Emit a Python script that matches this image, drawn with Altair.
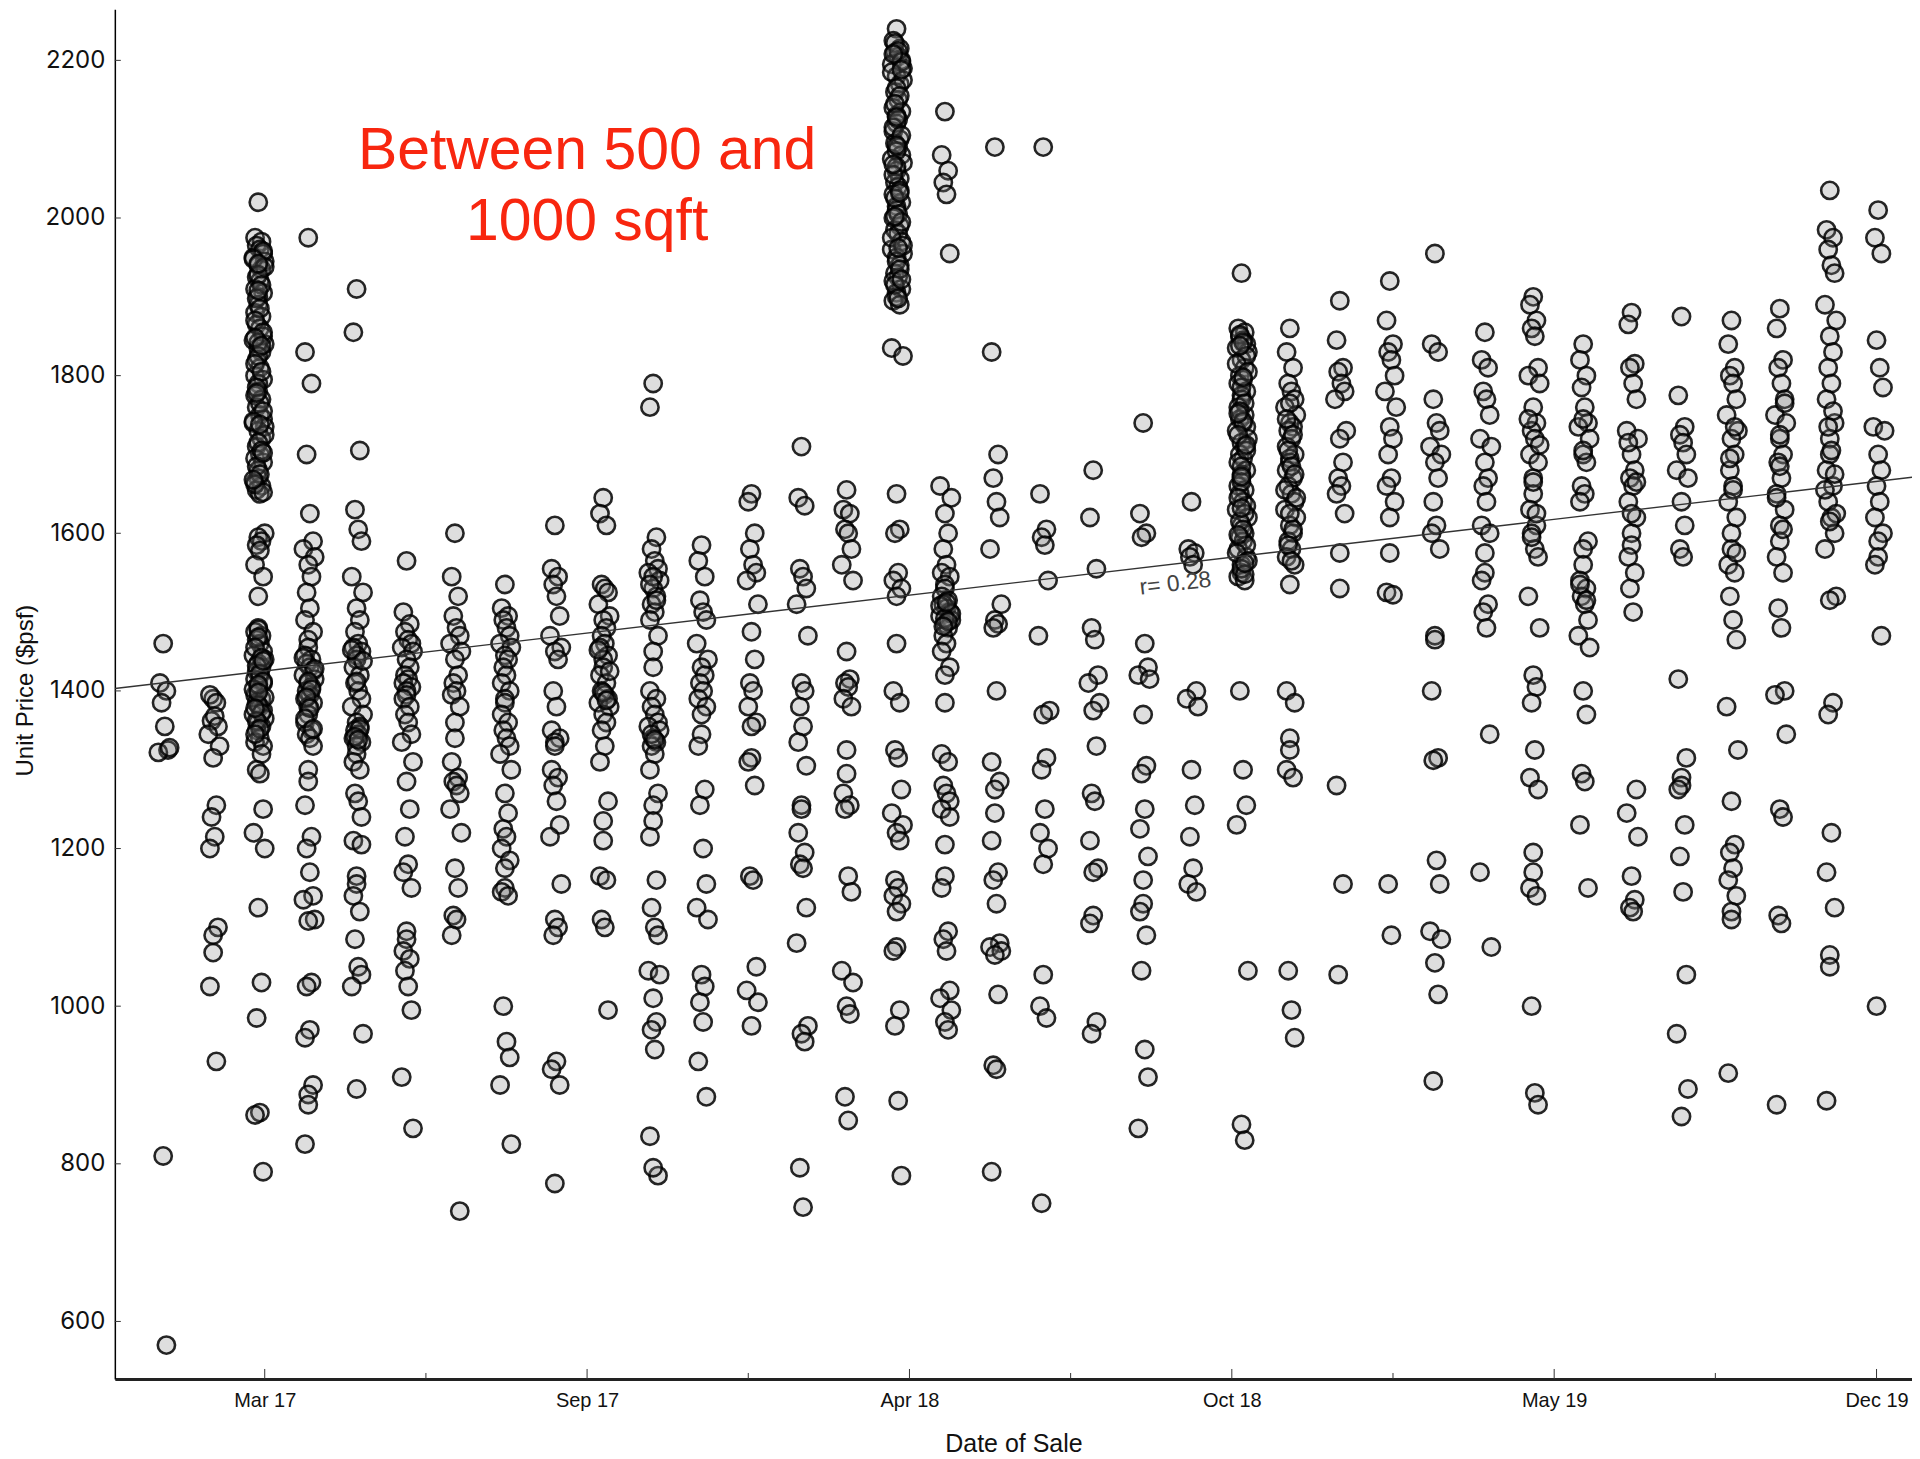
import altair as alt
import pandas as pd

# ---------------- data ----------------
MONTHS = [f"{y}-{m:02d}" for y in (2017, 2018, 2019) for m in range(1, 13)]

# sale day within each month (points in a month sit a few days apart)
DAYS = [4, 2, 6, 3, 5, 7, 1, 8, 4, 6, 3, 5, 2, 7, 4]

PRICES = [
    # Jan 17
    [1460, 1410, 1400, 1385, 1355, 1325, 1322, 1328, 810, 570],
    # Feb 17
    [1390, 1395, 1385, 1362, 1368, 1355, 1345, 1330, 1315, 1255, 1240, 1215, 1200, 1100, 1090, 1068, 1025, 930],
    # Mar 17
    [2020, 1975, 1970, 1965, 1960, 1955, 1950, 1945, 1940, 1935, 1925, 1920, 1910, 1905, 1900, 1890, 1880, 1875,
     1865, 1860, 1850, 1845, 1840, 1835, 1830, 1820, 1810, 1800, 1795, 1790, 1780, 1775, 1770, 1760, 1750, 1745,
     1740, 1735, 1730, 1720, 1710, 1700, 1695, 1690, 1680, 1670, 1665, 1660, 1655, 1650,
     1958, 1948, 1938, 1928, 1915, 1898, 1885, 1870, 1855, 1842, 1825, 1815, 1805, 1785, 1765, 1755, 1742, 1725,
     1715, 1705, 1685, 1675, 1662, 1652, 1942, 1908, 1848, 1838, 1778, 1738, 1702, 1668,
     1600, 1595, 1590, 1585, 1578, 1560, 1545, 1520,
     1480, 1475, 1470, 1465, 1460, 1450, 1445, 1440, 1435, 1430, 1425, 1420, 1415, 1410, 1405, 1400, 1395, 1390,
     1385, 1380, 1375, 1370, 1365, 1360, 1355, 1350, 1340, 1335, 1330,
     1478, 1468, 1455, 1442, 1432, 1422, 1412, 1402, 1392, 1382, 1372, 1362, 1352, 1345, 1438, 1408, 1398, 1378,
     1320, 1300, 1295, 1250, 1220, 1200, 1125, 1030, 985, 865, 862, 790],
    # Apr 17
    [1975, 1830, 1790, 1700, 1625, 1590, 1580, 1570, 1560, 1545, 1525, 1505, 1490, 1475, 1465, 1455, 1445, 1440,
     1435, 1430, 1425, 1420, 1415, 1410, 1405, 1400, 1395, 1390, 1385, 1380, 1370, 1360, 1350, 1345, 1340, 1330,
     1442, 1428, 1412, 1402, 1392, 1378, 1365, 1352,
     1300, 1285, 1255, 1215, 1200, 1170, 1140, 1135, 1110, 1108, 1030, 1025, 970, 960, 900, 888, 875, 825],
    # May 17
    [1910, 1855, 1705, 1630, 1605, 1590, 1545, 1525, 1505, 1490, 1475, 1460, 1455, 1450, 1445, 1440, 1430, 1420,
     1410, 1400, 1390, 1380, 1370, 1360, 1355, 1350, 1345, 1340, 1335, 1330, 1320, 1310, 1300, 1270, 1260, 1240,
     1452, 1438, 1412, 1352, 1342, 1338,
     1210, 1205, 1165, 1155, 1140, 1120, 1085, 1050, 1040, 1025, 965, 895],
    # Jun 17
    [1565, 1500, 1485, 1475, 1465, 1460, 1455, 1450, 1440, 1430, 1420, 1415, 1410, 1405, 1400, 1395, 1390, 1380,
     1370, 1360, 1345, 1335, 1310, 1285, 1250, 1215, 1180, 1170, 1150, 1095, 1085, 1070, 1060, 1045, 1025, 995,
     910, 845],
    # Jul 17
    [1600, 1545, 1520, 1495, 1480, 1470, 1460, 1450, 1440, 1420, 1410, 1400, 1395, 1380, 1360, 1340, 1310, 1290,
     1285, 1280, 1270, 1250, 1220, 1175, 1150, 1115, 1110, 1090, 740],
    # Aug 17
    [1535, 1505, 1495, 1490, 1480, 1470, 1460, 1455, 1445, 1440, 1430, 1420, 1410, 1400, 1390, 1385, 1370, 1360,
     1350, 1340, 1330, 1320, 1300, 1270, 1245, 1225, 1215, 1200, 1185, 1175, 1150, 1145, 1140, 1000, 955, 935,
     900, 825],
    # Sep 17
    [1610, 1555, 1545, 1535, 1520, 1495, 1470, 1455, 1450, 1440, 1400, 1380, 1350, 1340, 1335, 1330, 1300, 1290,
     1280, 1260, 1230, 1215, 1155, 1110, 1100, 1090, 930, 920, 900, 775],
    # Oct 17
    [1645, 1625, 1610, 1535, 1530, 1525, 1510, 1495, 1490, 1480, 1470, 1460, 1455, 1445, 1440, 1430, 1420, 1410,
     1400, 1395, 1390, 1385, 1380, 1370, 1360, 1350, 1330, 1310, 1260, 1235, 1210, 1165, 1160, 1110, 1100, 995,
     1452, 1425, 1398, 1388],
    # Nov 17
    [1790, 1760, 1595, 1580, 1565, 1555, 1550, 1540, 1530, 1520, 1510, 1500, 1490, 1470, 1450, 1430, 1400, 1390,
     1380, 1370, 1360, 1355, 1350, 1340, 1335, 1330, 1320, 1300, 1270, 1255, 1235, 1215, 1160, 1125, 1100, 1090,
     1045, 1040, 1010, 980, 970, 945, 835, 785, 795, 1545, 1535, 1515, 1345, 1338],
    # Dec 17
    [1585, 1565, 1545, 1515, 1500, 1490, 1460, 1440, 1430, 1420, 1410, 1400, 1390, 1380, 1370, 1345, 1330, 1275,
     1255, 1200, 1155, 1125, 1110, 1040, 1025, 1005, 980, 930, 885],
    # Jan 18
    [1650, 1640, 1600, 1580, 1560, 1550, 1540, 1510, 1475, 1440, 1410, 1400, 1380, 1360, 1355, 1315, 1310, 1280,
     1165, 1160, 1050, 1020, 1005, 975],
    # Feb 18
    [1710, 1645, 1635, 1555, 1545, 1530, 1510, 1470, 1410, 1400, 1380, 1355, 1335, 1305, 1255, 1250, 1220, 1195,
     1180, 1175, 1125, 1080, 975, 965, 955, 795, 745],
    # Mar 18
    [1655, 1630, 1625, 1605, 1600, 1580, 1560, 1540, 1450, 1415, 1410, 1405, 1390, 1380, 1325, 1295, 1270, 1255,
     1250, 1165, 1145, 1045, 1030, 1000, 990, 885, 855],
    # Apr 18
    [2240, 2225, 2215, 2210, 2205, 2200, 2195, 2190, 2180, 2170, 2160, 2150, 2140, 2135, 2130, 2120, 2110, 2100,
     2095, 2090, 2080, 2075, 2070, 2060, 2050, 2045, 2040, 2030, 2020, 2015, 2010, 2000, 1990, 1985, 1980, 1970,
     1960, 1955, 1950, 1940, 1930, 1925, 1920, 1910, 1905, 1900, 1895, 1890,
     2222, 2212, 2198, 2185, 2175, 2165, 2155, 2145, 2125, 2115, 2105, 2085, 2065, 2055, 2035, 2025, 2005, 1995,
     1975, 1965, 1945, 1935, 1915, 1898, 2208, 2188, 2128, 2092, 2068, 2032, 2002, 1962, 1922,
     1835, 1825, 1650, 1605, 1600, 1550, 1540, 1530, 1520, 1460, 1400, 1385, 1325, 1315, 1275, 1245, 1230, 1220,
     1210, 1160, 1150, 1140, 1130, 1120, 1075, 1070, 995, 975, 880, 785],
    # May 18
    [2135, 2080, 2060, 2045, 2030, 1955, 1660, 1645, 1625, 1600, 1580, 1560, 1550, 1545, 1535, 1530, 1520, 1515,
     1510, 1505, 1500, 1495, 1490, 1485, 1480, 1470, 1460, 1450, 1430, 1420, 1385, 1320, 1310, 1280, 1270, 1260,
     1508, 1498, 1492, 1488, 1482, 1512,
     1250, 1240, 1205, 1165, 1150, 1095, 1085, 1070, 1020, 1010, 995, 980, 970],
    # Jun 18
    [2090, 1830, 1700, 1670, 1640, 1620, 1580, 1510, 1490, 1485, 1480, 1400, 1310, 1285, 1275, 1245, 1210, 1170,
     1160, 1130, 1080, 1075, 1070, 1065, 1015, 925, 920, 790],
    # Jul 18
    [2090, 1650, 1605, 1595, 1585, 1540, 1470, 1375, 1370, 1315, 1300, 1250, 1220, 1200, 1180, 1040, 1000, 985, 750],
    # Aug 18
    [1680, 1620, 1555, 1480, 1465, 1420, 1410, 1385, 1375, 1330, 1270, 1260, 1210, 1175, 1170, 1115, 1105, 980, 965],
    # Sep 18
    [1740, 1625, 1600, 1595, 1460, 1430, 1420, 1415, 1370, 1305, 1295, 1250, 1225, 1190, 1160, 1130, 1120, 1090,
     1045, 945, 910, 845],
    # Oct 18
    [1640, 1580, 1575, 1570, 1560, 1400, 1390, 1380, 1300, 1255, 1215, 1175, 1155, 1145],
    # Nov 18
    [1930, 1860, 1855, 1850, 1845, 1840, 1835, 1830, 1820, 1810, 1800, 1795, 1790, 1780, 1775, 1770, 1760, 1750,
     1745, 1740, 1735, 1730, 1720, 1715, 1710, 1700, 1695, 1690, 1680, 1675, 1670, 1660, 1655, 1650, 1640, 1635,
     1630, 1620, 1610, 1600, 1595, 1590, 1580, 1570, 1560, 1550, 1545, 1540,
     1852, 1842, 1825, 1815, 1805, 1785, 1765, 1755, 1742, 1725, 1705, 1685, 1665, 1645, 1625, 1615, 1605, 1585,
     1575, 1565, 1555, 1548, 1838, 1798, 1752, 1712, 1672, 1632, 1598, 1562,
     1400, 1300, 1255, 1230, 1045, 850, 830],
    # Dec 18
    [1860, 1830, 1810, 1790, 1780, 1770, 1760, 1750, 1740, 1735, 1730, 1720, 1710, 1700, 1695, 1690, 1680, 1670,
     1660, 1650, 1640, 1630, 1620, 1610, 1600, 1590, 1580, 1570, 1560, 1535,
     1765, 1745, 1725, 1705, 1685, 1675, 1655, 1645, 1625, 1605, 1585, 1565,
     1400, 1385, 1340, 1325, 1300, 1290, 1045, 995, 960],
    # Jan 19
    [1895, 1845, 1810, 1805, 1790, 1780, 1770, 1730, 1720, 1690, 1670, 1660, 1650, 1625, 1575, 1530, 1280, 1155, 1040],
    # Feb 19
    [1920, 1870, 1840, 1830, 1820, 1800, 1780, 1760, 1735, 1720, 1700, 1670, 1660, 1640, 1620, 1575, 1525, 1522,
     1155, 1090],
    # Mar 19
    [1955, 1840, 1830, 1770, 1740, 1730, 1710, 1700, 1690, 1670, 1640, 1610, 1600, 1580, 1470, 1465, 1400, 1315,
     1312, 1185, 1155, 1095, 1085, 1055, 1015, 905],
    # Apr 19
    [1855, 1820, 1810, 1780, 1770, 1750, 1720, 1710, 1690, 1670, 1660, 1640, 1610, 1600, 1575, 1550, 1540, 1510,
     1500, 1480, 1345, 1170, 1075],
    # May 19
    [1900, 1890, 1870, 1860, 1850, 1810, 1800, 1790, 1760, 1740, 1730, 1720, 1700, 1690, 1670, 1650, 1630, 1610,
     1600, 1580, 1570, 1520, 1480, 1420, 1405, 1385, 1325, 1290, 1275, 1195, 1170, 1150, 1140, 1000, 890, 875,
     1745, 1712, 1665, 1625, 1595],
    # Jun 19
    [1840, 1820, 1800, 1785, 1760, 1740, 1735, 1720, 1700, 1690, 1660, 1650, 1640, 1590, 1580, 1560, 1540, 1530,
     1520, 1510, 1490, 1470, 1455, 1400, 1370, 1295, 1285, 1230, 1150, 1745, 1705, 1535, 1515],
    # Jul 19
    [1880, 1865, 1815, 1810, 1790, 1770, 1730, 1720, 1700, 1680, 1670, 1660, 1640, 1620, 1600, 1585, 1570, 1550,
     1530, 1500, 1275, 1245, 1215, 1165, 1135, 1125, 1120, 1715, 1665, 1625],
    # Aug 19
    [1875, 1775, 1735, 1725, 1715, 1700, 1680, 1670, 1640, 1610, 1580, 1570, 1415, 1315, 1290, 1280, 1275, 1230,
     1190, 1145, 1040, 965, 895, 860],
    # Sep 19
    [1870, 1840, 1810, 1800, 1790, 1770, 1750, 1730, 1720, 1700, 1680, 1660, 1640, 1620, 1600, 1580, 1560, 1550,
     1520, 1490, 1465, 1380, 1325, 1260, 1205, 1195, 1175, 1160, 1140, 1120, 1110, 915, 1735, 1695, 1655, 1575],
    # Oct 19
    [1885, 1860, 1820, 1810, 1790, 1770, 1750, 1740, 1720, 1700, 1690, 1670, 1650, 1630, 1610, 1590, 1570, 1550,
     1505, 1480, 1400, 1395, 1345, 1250, 1240, 1115, 1105, 875, 1765, 1725, 1685, 1645, 1605],
    # Nov 19
    [2035, 1985, 1975, 1960, 1940, 1930, 1890, 1870, 1850, 1830, 1810, 1790, 1770, 1740, 1720, 1700, 1680, 1660,
     1640, 1620, 1600, 1580, 1520, 1515, 1385, 1370, 1220, 1170, 1125, 1065, 1050, 880,
     1755, 1735, 1705, 1675, 1655, 1625, 1615],
    # Dec 19
    [2010, 1975, 1955, 1845, 1810, 1785, 1735, 1730, 1700, 1680, 1660, 1640, 1620, 1600, 1590, 1570, 1560, 1470, 1000],
]

# trend line (as drawn in the picture) and its label
TREND_DATES = ["2016-12-05", "2019-12-25"]
TREND_PRICES = [1403, 1671]
R_LABEL = "r= 0.28"
R_DATE = "2018-09-24"
R_PRICE = 1536

TITLE_TEXT = "Between 500 and\n1000 sqft"

MAJOR_TICKS = [(2017, 3, 8), (2017, 9, 24), (2018, 4, 12), (2018, 10, 29), (2019, 5, 17), (2019, 12, 3)]
MINOR_TICKS = ["2017-06-16", "2018-01-02", "2018-07-21", "2019-02-06", "2019-08-25"]
Y_TICKS = [600, 800, 1000, 1200, 1400, 1600, 1800, 2000, 2200]

# ---------------- build tables ----------------
rows = []
for month, prices in zip(MONTHS, PRICES):
    for i, p in enumerate(prices):
        rows.append({"date": f"{month}-{DAYS[i % len(DAYS)]:02d}", "price": p})
points_df = pd.DataFrame(rows)
trend_df = pd.DataFrame({"date": TREND_DATES, "price": TREND_PRICES})
rlab_df = pd.DataFrame({"date": [R_DATE], "price": [R_PRICE], "t": [R_LABEL]})
title_df = pd.DataFrame({"t": [TITLE_TEXT]})
major_df = pd.DataFrame({"date": [f"{y}-{m:02d}-{d:02d}" for y, m, d in MAJOR_TICKS]})
minor_df = pd.DataFrame({"date": MINOR_TICKS})
ytick_df = pd.DataFrame({"price": Y_TICKS})

W, H = 1800, 1372

x_scale = alt.Scale(domain=[alt.DateTime(year=2016, month=12, date=5),
                            alt.DateTime(year=2019, month=12, date=25)], nice=False)
y_scale = alt.Scale(domain=[527, 2265], nice=False, zero=False)

x_axis = alt.Axis(
    values=[alt.DateTime(year=y, month=m, date=d) for y, m, d in MAJOR_TICKS],
    format="%b %y", ticks=False, tickSize=0, grid=False,
    labelFont="Liberation Sans", labelFontSize=20, labelColor="#111", labelPadding=12,
    domainColor="#222", domainWidth=3,
    title="Date of Sale", titleFont="Liberation Sans", titleFontSize=25, titleFontWeight="normal",
    titleColor="#111", titleY=65, titleBaseline="middle",
)
y_axis = alt.Axis(
    values=Y_TICKS, format="d", ticks=False, tickSize=0, grid=False,
    labelFont="Inter", labelFontSize=24, labelColor="#111", labelPadding=10,
    domainColor="#000", domainWidth=1.5,
    title="Unit Price ($psf)", titleFont="Liberation Sans", titleFontSize=24, titleFontWeight="normal",
    titleColor="#111", titleX=-89, titleY=682, titleAngle=270, titleBaseline="middle", titleAlign="center",
)

pts = alt.Chart(points_df).mark_circle(
    size=300, fill="#808080", fillOpacity=0.26, stroke="#000", strokeOpacity=0.85, strokeWidth=2.6
).encode(
    x=alt.X("date:T", scale=x_scale, axis=x_axis),
    y=alt.Y("price:Q", scale=y_scale, axis=y_axis),
)

trend = alt.Chart(trend_df).mark_line(color="#333", strokeWidth=1.4, clip=True).encode(
    x="date:T", y="price:Q"
)

rlab = alt.Chart(rlab_df).mark_text(
    font="Liberation Sans", fontSize=23, color="#444", angle=353.3, align="center", baseline="middle"
).encode(x="date:T", y="price:Q", text="t:N")

title = alt.Chart(title_df).mark_text(
    font="Liberation Sans", fontSize=59, color="#f8260f", align="center", baseline="middle",
    lineBreak="\n", lineHeight=71
).encode(x=alt.value(473), y=alt.value(142), text="t:N")

major = alt.Chart(major_df).mark_rule(color="#333", strokeWidth=1).encode(
    x="date:T", y=alt.value(H - 10), y2=alt.value(H)
)
minor = alt.Chart(minor_df).mark_rule(color="#333", strokeWidth=1).encode(
    x="date:T", y=alt.value(H - 6), y2=alt.value(H)
)
yticks = alt.Chart(ytick_df).mark_rule(color="#333", strokeWidth=1).encode(
    y="price:Q", x=alt.value(0), x2=alt.value(6)
)

chart = alt.layer(pts, trend, rlab, title, major, minor, yticks).properties(
    width=W, height=H,
    autosize=alt.AutoSizeParams(type="none"),
    padding={"left": 107, "top": 0, "right": 0, "bottom": 80},
    background="white",
).configure_view(stroke=None)

chart.save("out.html", embed_options={"renderer": "svg", "actions": False})
